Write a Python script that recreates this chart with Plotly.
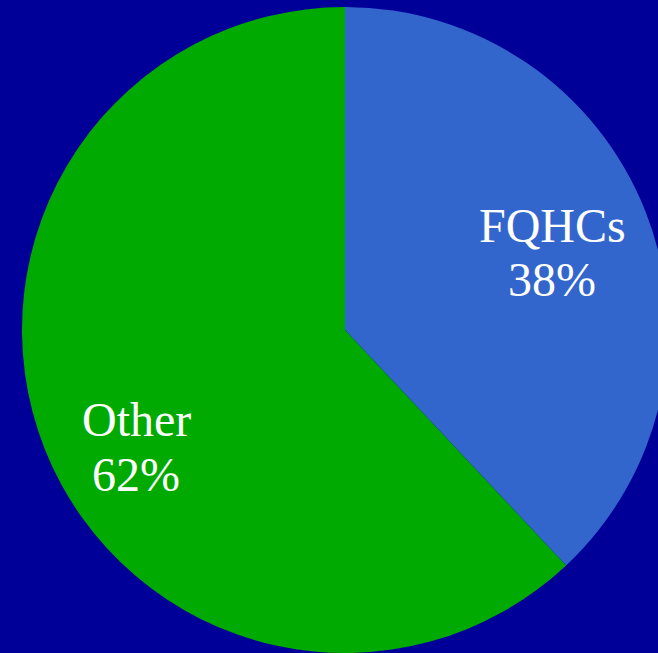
import plotly.graph_objects as go

labels = ["FQHCs", "Other"]
values = [38, 62]
colors = ["#3366CC", "#00AA00"]

# label placement (pixel centres of each text line), style only
label_pos = {"FQHCs": (552, 226, 280), "Other": (136, 419, 474)}

W, H = 690, 653

fig = go.Figure(go.Pie(
    labels=labels,
    values=values,
    sort=False,
    direction="clockwise",
    rotation=0,
    marker=dict(colors=colors, line=dict(width=0)),
    textinfo="none",
    hoverinfo="skip",
    domain=dict(x=[0, 1], y=[0, 1 - 7 / H]),
))

total = sum(values)
font = dict(family="Liberation Serif", size=48, color="white")
for lab, val in zip(labels, values):
    px, y1, y2 = label_pos[lab]
    pct = f"{round(100 * val / total)}%"
    for txt, py in ((lab, y1), (pct, y2)):
        fig.add_annotation(
            x=px / W, y=1 - py / H, xref="paper", yref="paper",
            text=txt, showarrow=False, font=font,
            xanchor="center", yanchor="middle",
        )

fig.update_layout(
    width=W,
    height=H,
    margin=dict(l=0, r=0, t=0, b=0),
    paper_bgcolor="#000099",
    plot_bgcolor="#000099",
    showlegend=False,
)

fig.write_html(
    "out.html",
    include_plotlyjs=True,
    post_script="document.documentElement.style.overflow='hidden';document.body.style.overflow='hidden';document.body.style.margin='0';",
)
